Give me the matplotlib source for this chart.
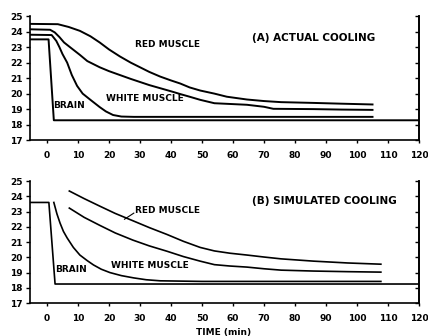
import numpy as np
import matplotlib
matplotlib.use("Agg")
import matplotlib.pyplot as plt

# ---------------------------------------------------------------------------
# data (time in min, temperature in deg C)

# (A) actual cooling
a_red_t = [-5.5, 3.5, 7, 10.6, 14, 17, 20, 23.5, 27, 30, 33, 36.5, 40, 43, 46, 49.4, 54, 58, 64.5, 70, 75.5, 86, 95, 105]
a_red_y = [24.5, 24.48, 24.3, 24.05, 23.7, 23.3, 22.85, 22.4, 22.0, 21.7, 21.4, 21.1, 20.85, 20.65, 20.4, 20.2, 20.0, 19.8, 19.62, 19.52, 19.45, 19.4, 19.35, 19.3]

a_mid_t = [-5.5, 1, 2.5, 4, 5.5, 7.4, 9, 10.6, 13, 17, 20, 23.5, 27, 30, 33, 36.5, 40, 43, 46, 49.4, 54, 64.5, 70, 73, 86, 95, 105]
a_mid_y = [24.15, 24.12, 23.95, 23.65, 23.3, 23.0, 22.75, 22.5, 22.1, 21.7, 21.45, 21.2, 20.95, 20.75, 20.55, 20.35, 20.15, 19.97, 19.8, 19.6, 19.38, 19.28, 19.15, 19.02, 19.0, 18.97, 18.95]

a_white_t = [-5.5, 1.5, 3, 4, 5, 6.5, 8, 9.7, 11.5, 14, 17, 19, 21.3, 24, 28, 40, 60, 80, 105]
a_white_y = [23.8, 23.78, 23.4, 23.0, 22.55, 22.0, 21.2, 20.5, 20.0, 19.6, 19.13, 18.85, 18.62, 18.52, 18.5, 18.5, 18.5, 18.5, 18.5]

a_brain_t = [-5.5, 0.5, 2.2, 120]
a_brain_y = [23.5, 23.5, 18.28, 18.28]

# (B) simulated cooling
b_red_t = [7.2, 12, 17, 22, 27.7, 33, 38.7, 44, 49.4, 54, 59, 64.5, 70, 75.5, 86, 97, 107.7]
b_red_y = [24.35, 23.85, 23.36, 22.88, 22.4, 21.95, 21.5, 21.05, 20.65, 20.42, 20.27, 20.15, 20.02, 19.9, 19.75, 19.63, 19.55]

b_mid_t = [7.2, 12, 17, 22, 27.7, 33, 38.7, 44, 49.4, 54, 59, 64.5, 70, 75.5, 86, 97, 107.7]
b_mid_y = [23.23, 22.62, 22.1, 21.6, 21.13, 20.75, 20.4, 20.05, 19.75, 19.52, 19.43, 19.36, 19.25, 19.16, 19.1, 19.06, 19.03]

b_white_t = [2.2, 3.2, 4.2, 5.3, 6.5, 8.5, 10.6, 13, 15, 17.5, 20.3, 24, 28, 32, 36.5, 50, 70, 90, 107.7]
b_white_y = [23.6, 22.85, 22.25, 21.7, 21.27, 20.65, 20.15, 19.78, 19.5, 19.22, 19.0, 18.8, 18.65, 18.53, 18.46, 18.42, 18.42, 18.42, 18.42]

b_brain_t = [-5.5, 0.6, 2.6, 120]
b_brain_y = [23.6, 23.6, 18.25, 18.25]

x_ticks = list(range(0, 121, 10))
y_ticks = list(range(17, 26))

###################################################################################################

fig = plt.figure(figsize=(4.28, 3.36), dpi=100)
ax_a = fig.add_axes([0.070, 0.583, 0.909, 0.369])
ax_b = fig.add_axes([0.070, 0.098, 0.909, 0.363])

font = dict(fontsize=6.5, fontweight='bold', color='black')
title_font = dict(fontsize=7.5, fontweight='bold', color='black')


def style_axis(ax):
    ax.set_xlim(-5.5, 120)
    ax.set_ylim(17, 25)
    ax.spines['top'].set_visible(False)
    for s in ['left', 'bottom', 'right']:
        ax.spines[s].set_linewidth(1.2)
    ax.set_xticks(x_ticks)
    ax.set_yticks(y_ticks)
    ax.tick_params(axis='x', direction='out', length=2, width=1, labelsize=6.5, pad=6)
    ax.tick_params(axis='y', which='both', direction='out', length=3, width=1, labelsize=6.5, pad=2)
    for lab in ax.get_xticklabels() + ax.get_yticklabels():
        lab.set_fontweight('bold')
    # small inward ticks on the right-hand spine
    sec = ax.secondary_yaxis('right')
    sec.set_yticks(y_ticks)
    sec.tick_params(direction='in', length=3, width=1, labelright=False)
    sec.spines['right'].set_linewidth(1.2)


# Panel A
for t, y in [(a_red_t, a_red_y), (a_mid_t, a_mid_y), (a_white_t, a_white_y), (a_brain_t, a_brain_y)]:
    ax_a.plot(t, y, color='black', linewidth=1.4)
style_axis(ax_a)
ax_a.text(66, 23.4, '(A) ACTUAL COOLING', **title_font)
ax_a.text(28.4, 23.0, 'RED MUSCLE', **font)
ax_a.text(19, 19.55, 'WHITE MUSCLE', **font)
ax_a.text(2, 19.05, 'BRAIN', **font)

# Panel B
for t, y in [(b_red_t, b_red_y), (b_mid_t, b_mid_y), (b_white_t, b_white_y), (b_brain_t, b_brain_y)]:
    ax_b.plot(t, y, color='black', linewidth=1.2)
style_axis(ax_b)
ax_b.text(66, 23.5, '(B) SIMULATED COOLING', **title_font)
ax_b.text(28.4, 22.9, 'RED MUSCLE', **font)
ax_b.plot([25, 28], [22.5, 22.9], color='black', linewidth=0.8)
ax_b.text(20.5, 19.3, 'WHITE MUSCLE', **font)
ax_b.text(2.5, 19.05, 'BRAIN', **font)
fig.text(224 / 428, 1 - 332 / 336, 'TIME (min)', fontsize=6.5, fontweight='bold',
         ha='center', va='center')

plt.savefig('out.png', dpi=100)
